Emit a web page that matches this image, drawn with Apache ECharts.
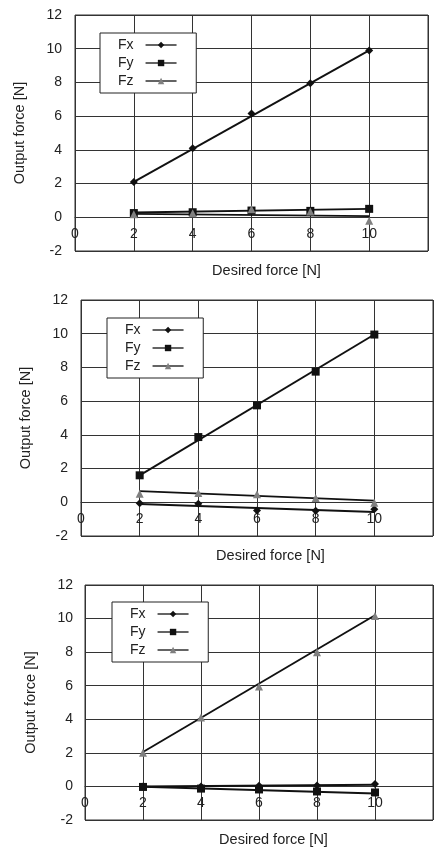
<!DOCTYPE html>
<html>
<head>
<meta charset="utf-8">
<script src="https://cdn.jsdelivr.net/npm/echarts@6/dist/echarts.min.js"></script>
<style>
html,body{margin:0;padding:0;background:#fff;}
#chart{width:436px;height:850px;}
</style>
</head>
<body>
<div id="chart"></div>
<script>
// ---- data ----
const xValues = [2, 4, 6, 8, 10];
const trendX = [2, 10];
const xTicks = [0, 2, 4, 6, 8, 10];
const seriesNames = ['Fx', 'Fy', 'Fz'];

// chart 1
const c1Fx = [2.1, 4.1, 6.15, 7.95, 9.9];
const c1Fy = [0.25, 0.3, 0.4, 0.38, 0.5];
const c1Fz = [0.18, 0.24, 0.47, 0.35, -0.2];
const c1FxTrend = [2.1, 9.9];
const c1FyTrend = [0.28, 0.5];
const c1FzTrend = [0.2, 0.07];

// chart 2
const c2Fx = [-0.05, -0.08, -0.48, -0.5, -0.42];
const c2Fy = [1.6, 3.87, 5.75, 7.75, 9.95];
const c2Fz = [0.5, 0.55, 0.47, 0.25, -0.03];
const c2FxTrend = [-0.1, -0.58];
const c2FyTrend = [1.6, 9.95];
const c2FzTrend = [0.66, 0.1];

// chart 3
const c3Fx = [0, 0, 0.04, 0.05, 0.15];
const c3Fy = [-0.03, -0.13, -0.18, -0.3, -0.36];
const c3Fz = [2.0, 4.1, 5.95, 8.0, 10.15];
const c3FxTrend = [0, 0.1];
const c3FyTrend = [-0.02, -0.42];
const c3FzTrend = [2.05, 10.2];

const yMin = -2, yMax = 12;

// ---- layout / style ----
const FONT = "'Liberation Sans', Arial, sans-serif";
const TXT = '#222';
const GRIDC = '#333';
const panels = [
  {grid:{left:75, top:15, width:353, height:236}, yMargin:13, yGap:48, xGap:46, xShift:30,
   legend:{left:100, top:33}, fx:c1Fx, fy:c1Fy, fz:c1Fz, tx:c1FxTrend, ty:c1FyTrend, tz:c1FzTrend},
  {grid:{left:81, top:300, width:355, height:236}, yMargin:13, yGap:48, xGap:46, xShift:27,
   legend:{left:107, top:318}, fx:c2Fx, fy:c2Fy, fz:c2Fz, tx:c2FxTrend, ty:c2FyTrend, tz:c2FzTrend},
  {grid:{left:85, top:585, width:357, height:235}, yMargin:12, yGap:47, xGap:46, xShift:29,
   legend:{left:112, top:602}, fx:c3Fx, fy:c3Fy, fz:c3Fz, tx:c3FxTrend, ty:c3FyTrend, tz:c3FzTrend}
];
const markerStyles = {
  Fx: {symbol:'diamond', size:8, color:'#111'},
  Fy: {symbol:'rect', size:8, color:'#111'},
  Fz: {symbol:'triangle', size:8, color:'#808080'}
};

const zip = (xs, ys) => xs.map((x, i) => [x, ys[i]]);

const option = {
  animation: false,
  backgroundColor: '#fff',
  textStyle: {fontFamily: FONT, color: TXT},
  grid: [], xAxis: [], yAxis: [], legend: [], series: []
};

panels.forEach((p, i) => {
  option.grid.push(Object.assign({show:true, borderColor:GRIDC, borderWidth:1, backgroundColor:'#fff', containLabel:false}, p.grid));
  // x axis sits on the y=0 line
  const zeroOffset = -p.grid.height * (0 - yMin) / (yMax - yMin);
  option.xAxis.push({
    type:'value', gridIndex:i, min:0, max:12, interval:2,
    position:'bottom', offset: zeroOffset,
    name:'Desired force [N]', nameLocation:'middle', nameGap:p.xGap,
    nameTextStyle:{fontSize:14.5, color:TXT, fontFamily:FONT, padding:[0,0,0,p.xShift]},
    axisLine:{show:true, onZero:false, lineStyle:{color:GRIDC, width:1}},
    axisTick:{show:false},
    axisLabel:{fontSize:14, color:TXT, fontFamily:FONT, margin:10,
      formatter: v => (xTicks.indexOf(v) >= 0 ? String(v) : '')},
    splitLine:{show:true, lineStyle:{color:GRIDC, width:1}}
  });
  option.yAxis.push({
    type:'value', gridIndex:i, min:yMin, max:yMax, interval:2,
    name:'Output force [N]', nameLocation:'middle', nameGap:p.yGap,
    nameTextStyle:{fontSize:14.5, color:TXT, fontFamily:FONT},
    axisLine:{show:false}, axisTick:{show:false},
    axisLabel:{fontSize:14, color:TXT, fontFamily:FONT, margin:p.yMargin},
    splitLine:{show:true, lineStyle:{color:GRIDC, width:1}}
  });
  option.legend.push({
    data: seriesNames, orient:'vertical', left:p.legend.left, top:p.legend.top,
    align:'right', itemWidth:31, itemHeight:8, itemGap:4,
    padding:[5,19,5,18], backgroundColor:'#fff', borderColor:'#222', borderWidth:1,
    borderRadius:0, selectedMode:false,
    textStyle:{fontSize:14, color:TXT, fontFamily:FONT, padding:[0,7,0,0]},
    lineStyle:{color:'#222', width:1.4, opacity:1}
  });
  const vals = {Fx:p.fx, Fy:p.fy, Fz:p.fz};
  const trends = {Fx:p.tx, Fy:p.ty, Fz:p.tz};
  seriesNames.forEach(n => {
    option.series.push({
      type:'line', xAxisIndex:i, yAxisIndex:i, data:zip(trendX, trends[n]),
      symbol:'none', silent:true, z:2,
      lineStyle:{color:'#111', width:1.9}, itemStyle:{color:'#111'}
    });
  });
  seriesNames.forEach(n => {
    const m = markerStyles[n];
    option.series.push({
      name:n, type:'line', xAxisIndex:i, yAxisIndex:i, data:zip(xValues, vals[n]),
      symbol:m.symbol, symbolSize:m.size, showSymbol:true, z:3,
      itemStyle:{color:m.color, borderWidth:0},
      lineStyle:{color:'#111', width:1.3, opacity:0},
      emphasis:{disabled:true}
    });
  });
});

const chart = echarts.init(document.getElementById('chart'), null, {renderer:'canvas'});
chart.setOption(option);
</script>
</body>
</html>
